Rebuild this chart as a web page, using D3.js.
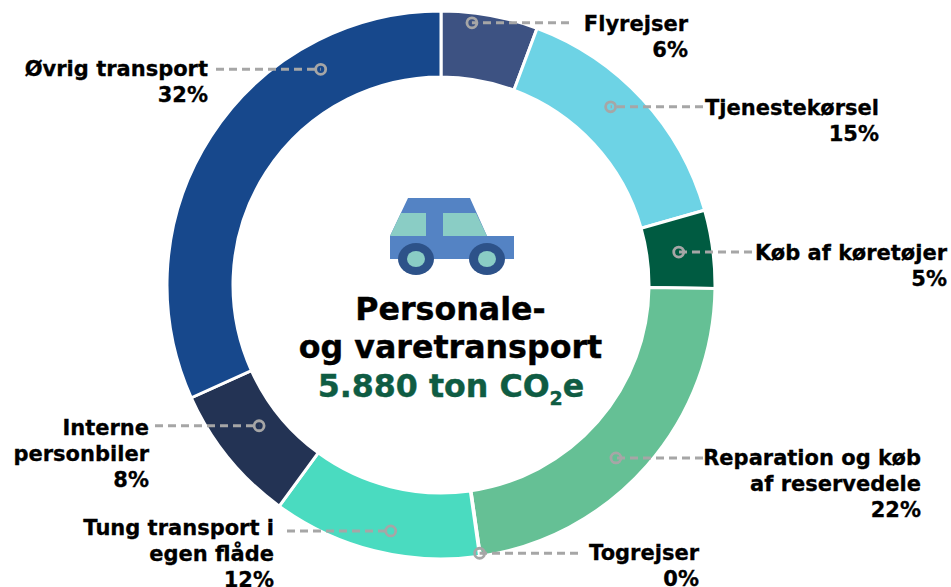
<!DOCTYPE html>
<html><head><meta charset="utf-8">
<script src="https://cdn.jsdelivr.net/npm/d3@7/dist/d3.min.js"></script>
<style>html,body{margin:0;padding:0;background:#fff}svg{display:block}text{font-family:"DejaVu Sans",Verdana,sans-serif;font-weight:bold}</style>
</head><body><svg id="c" width="951" height="587"></svg>
<script>
const categories=["Flyrejser","Tjenestekørsel","Køb af køretøjer","Reparation og køb af reservedele","Togrejser","Tung transport i egen flåde","Interne personbiler","Øvrig transport"];
const values=[5.7,14.9,4.6,22.5,0.05,12.3,8.2,31.75];
const percentLabels=["6%","15%","5%","22%","0%","12%","8%","32%"];
const colors=["#3D5282","#6DD3E5","#005B41","#65C095","#7F7F7F","#4ADBC0","#233354","#17488C"];

const labelLines=[["Flyrejser"],["Tjenestekørsel"],["Køb af køretøjer"],["Reparation og køb","af reservedele"],["Togrejser"],["Tung transport i","egen flåde"],["Interne","personbiler"],["Øvrig transport"]];
const labelLayout=[
 {x:688,y:31,lineEnd:569},{x:879,y:115,lineEnd:703},{x:947,y:260,lineEnd:752},
 {x:921,y:465,lineEnd:703},{x:699,y:560,lineEnd:578},{x:274,y:535,lineEnd:287},
 {x:149,y:435,lineEnd:155},{x:208,y:76,lineEnd:216}];
const dotFrac=[.328,.43,.48,.5426,.5,.444,.545,.745];
const dotRadius=[264,246,240,246,271,251,230,247];

const cx=441,cy=285,R=274,r=208,lh=25.8;
const svg=d3.select("#c");
const g=svg.append("g").attr("transform",`translate(${cx},${cy})`);
const pie=d3.pie().sort(null).value(d=>d)(values);
const arc=d3.arc().innerRadius(r).outerRadius(R);
g.selectAll("path.s").data(pie).join("path").attr("class","s").attr("d",arc)
 .attr("fill",(d,i)=>colors[i]).attr("stroke","#fff").attr("stroke-width",3);

const gray="#A6A6A6";
pie.forEach((d,i)=>{
  const a=d.startAngle+(d.endAngle-d.startAngle)*dotFrac[i];
  const px=cx+dotRadius[i]*Math.sin(a), py=cy-dotRadius[i]*Math.cos(a);
  const L=labelLayout[i];
  svg.append("line").attr("x1",L.lineEnd).attr("y1",py).attr("x2",px).attr("y2",py)
    .attr("stroke",gray).attr("stroke-width",3).attr("stroke-dasharray","8 5");
  svg.append("circle").attr("cx",px).attr("cy",py).attr("r",5).attr("fill","none").attr("stroke",gray).attr("stroke-width",2.8);
  const lines=labelLines[i].concat(percentLabels[i]);
  lines.forEach((t,j)=>svg.append("text").attr("x",L.x).attr("y",L.y+j*lh).attr("text-anchor","end").attr("font-size",21).attr("fill","#000").attr("stroke","#000").attr("stroke-width",0.3).text(t));
});

// car icon
const car=svg.append("g");
car.append("path").attr("d","M408 198H470L487 236H514V259H390V236Z").attr("fill","#5483C4");
car.append("path").attr("d","M401 213H426V236H390Z").attr("fill","#8ACDC5");
car.append("path").attr("d","M443 213H476L487 236H443Z").attr("fill","#8ACDC5");
[416,487].forEach(x=>{
  car.append("ellipse").attr("cx",x).attr("cy",259).attr("rx",18).attr("ry",16).attr("fill","#2D5289");
  car.append("ellipse").attr("cx",x).attr("cy",259).attr("rx",9).attr("ry",8).attr("fill","#8ACDC5");
});

// centre text
const big={size:31.7,sw:0.4};
[["Personale-",320],["og varetransport",358]].forEach(([s,y])=>
  svg.append("text").attr("x",450.5).attr("y",y).attr("text-anchor","middle").attr("font-size",big.size).attr("fill","#000").attr("stroke","#000").attr("stroke-width",big.sw).text(s));
const t=svg.append("text").attr("x",451).attr("y",397).attr("text-anchor","middle").attr("font-size",big.size).attr("fill","#0F5C43").attr("stroke","#0F5C43").attr("stroke-width",big.sw);
t.append("tspan").text("5.880 ton CO");
t.append("tspan").attr("font-size",19).attr("dy",8).text("2");
t.append("tspan").attr("dy",-8).text("e");
</script></body></html>
